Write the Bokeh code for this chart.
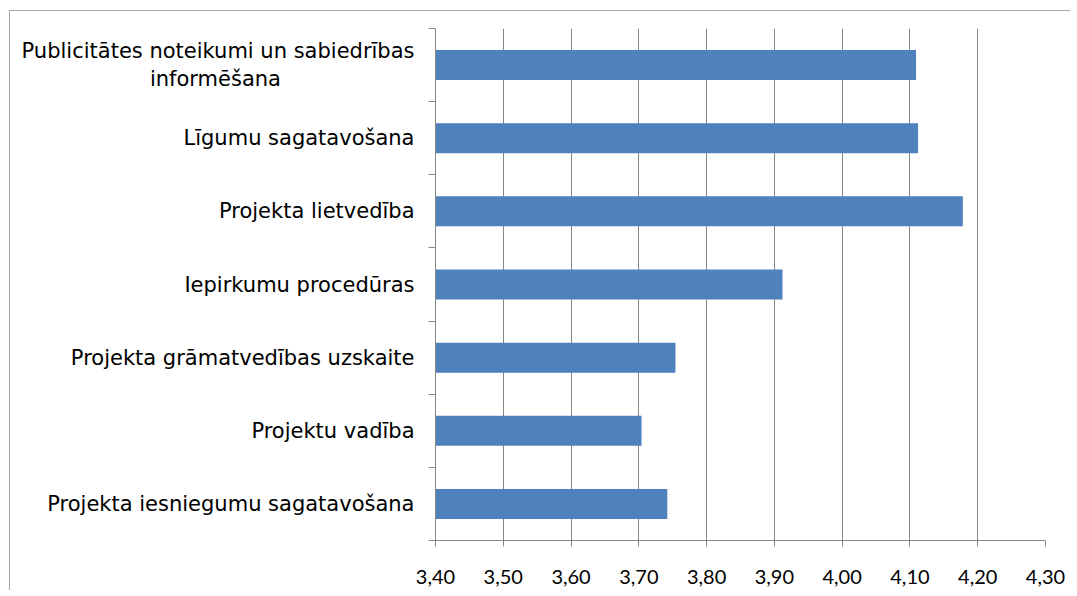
from bokeh.plotting import figure
from bokeh.models import Range1d, FixedTicker, CustomJSTickFormatter, ColumnDataSource
from bokeh.embed import file_html
from bokeh.resources import INLINE

# Categories listed bottom -> top
categories = [
    "Projekta iesniegumu sagatavošana",
    "Projektu vadība",
    "Projekta grāmatvedības uzskaite",
    "Iepirkumu procedūras",
    "Projekta lietvedība",
    "Līgumu sagatavošana",
    "Publicitātes noteikumi un sabiedrības\ninformēšana",
]
values = [3.742, 3.704, 3.754, 3.912, 4.178, 4.112, 4.109]
x_ticks = [3.40, 3.50, 3.60, 3.70, 3.80, 3.90, 4.00, 4.10, 4.20, 4.30]

FONT = "Lato"
YFONT = "DejaVu Sans"
BAR = "#4F81BD"
GRID = "#868686"

X0, X1 = 3.40, 4.30
n = len(categories)
ypos = [i + 0.5 for i in range(n)]

# Visual centring of the second line of wrapped labels (padding with no-break spaces)
def centred(label, pad=20):
    if "\n" in label:
        a, b = label.split("\n")
        return a + "\n" + b + "\u00a0" * pad
    return label

p = figure(width=1061, height=580, output_backend="svg", toolbar_location=None,
           x_range=Range1d(X0, X1), y_range=Range1d(0, n),
           min_border_left=425, min_border_right=26, min_border_top=17, min_border_bottom=51)
p.styles = {"border-left": "1px solid #a6a6a6", "border-top": "1px solid #a6a6a6",
            "margin-left": "9px", "margin-top": "10px"}
p.outline_line_color = None
p.background_fill_color = "white"
p.border_fill_color = "white"

src = ColumnDataSource(dict(y=ypos, right=values, left=[X0] * n))
p.hbar(y="y", left="left", right="right", height=0.41, source=src,
       fill_color=BAR, line_color=None)

# x axis
xa = p.xaxis[0]
xa.ticker = FixedTicker(ticks=x_ticks)
xa.formatter = CustomJSTickFormatter(code="return tick.toFixed(2).replace('.', ',');")
xa.axis_line_color = GRID
xa.major_tick_line_color = GRID
xa.major_tick_out = 6
xa.major_tick_in = 0
xa.minor_tick_line_color = None
xa.major_label_text_font = FONT
xa.major_label_text_font_size = "20px"
xa.major_label_text_color = "black"
xa.major_label_standoff = 23

# y axis: labels at category centres, minor ticks at category boundaries
ya = p.yaxis[0]
ya.ticker = FixedTicker(ticks=ypos, minor_ticks=list(range(n + 1)))
ya.major_label_overrides = {y: centred(c) for y, c in zip(ypos, categories)}
ya.axis_line_color = GRID
ya.major_tick_line_color = None
ya.major_tick_out = 0
ya.major_tick_in = 0
ya.minor_tick_line_color = GRID
ya.minor_tick_out = 7
ya.minor_tick_in = 0
ya.major_label_standoff = 14
ya.major_label_text_font = YFONT
ya.major_label_text_font_size = "21px"
ya.major_label_text_color = "black"

p.xgrid.ticker = FixedTicker(ticks=x_ticks)
p.xgrid.grid_line_color = GRID
p.ygrid.grid_line_color = None

open("out.html", "w").write(file_html(p, INLINE))
